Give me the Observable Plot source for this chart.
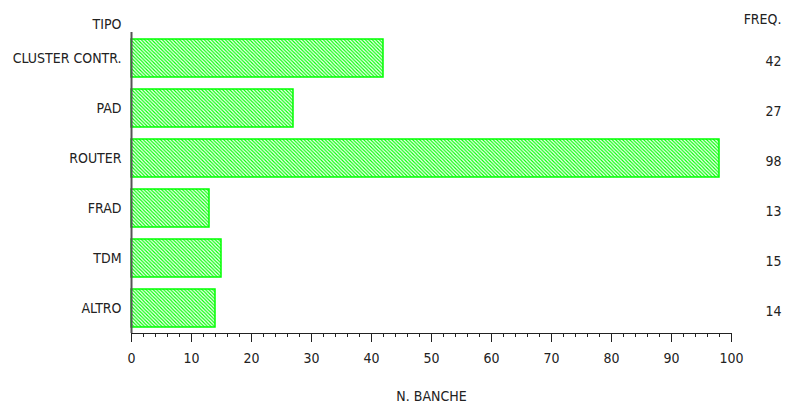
<!DOCTYPE html>
<html>
<head>
<meta charset="utf-8">
<script src="https://cdn.jsdelivr.net/npm/d3@7"></script>
<script src="https://cdn.jsdelivr.net/npm/@observablehq/plot@0.6"></script>
<style>
  html, body { margin: 0; padding: 0; background: #fff; }
  svg { font-family: "Liberation Sans Narrow", "Arial Narrow", "DejaVu Sans Condensed", sans-serif; }
</style>
</head>
<body>
<div id="chart"></div>
<script>
const tipi = ["CLUSTER CONTR.", "PAD", "ROUTER", "FRAD", "TDM", "ALTRO"];
const freq = [42, 27, 98, 13, 15, 14];
const majorTicks = [0, 10, 20, 30, 40, 50, 60, 70, 80, 90, 100];
const minorTicks = d3.range(0, 101, 2);

const data = tipi.map((t, i) => ({tipo: t, freq: freq[i]}));
const ink = "#222";
const fs = 14;

const chart = Plot.plot({
  width: 787,
  height: 405,
  marginLeft: 131,
  marginRight: 56,
  marginTop: 32,
  marginBottom: 72,
  style: {fontSize: fs + "px", color: ink, background: "#fff", overflow: "visible"},
  x: {domain: [0, 100], label: null},
  y: {domain: tipi, paddingInner: 0.24, paddingOuter: 0.12, label: null},
  marks: [
    Plot.barX(data, {x: "freq", y: "tipo", fill: "url(#hatch)", stroke: "#00ff00", strokeWidth: 1.5}),
    Plot.ruleX([0], {stroke: "#555", strokeWidth: 2}),
    Plot.frame({anchor: "bottom", stroke: ink}),
    Plot.axisX(minorTicks, {tickSize: 4, text: null, stroke: ink}),
    Plot.axisX(majorTicks, {tickSize: 9, tickPadding: 11, stroke: ink, fill: ink, fontSize: fs, label: null}),
    Plot.axisY({tickSize: 0, tickPadding: 10, fill: ink, fontSize: fs, label: null}),
    Plot.text(data, {y: "tipo", text: d => String(d.freq), frameAnchor: "right", dx: 50, dy: 3, textAnchor: "end", fill: ink, fontSize: fs}),
    Plot.text(["TIPO"], {frameAnchor: "top-left", dx: -10, dy: -13, textAnchor: "end", fill: ink, fontSize: fs}),
    Plot.text(["FREQ."], {frameAnchor: "top-right", dx: 50, dy: -18, textAnchor: "end", fill: ink, fontSize: fs}),
    Plot.text(["N. BANCHE"], {frameAnchor: "bottom", dy: 67, fill: ink, fontSize: fs})
  ]
});

const ns = "http://www.w3.org/2000/svg";
const defs = document.createElementNS(ns, "defs");
defs.innerHTML = '<pattern id="hatch" patternUnits="userSpaceOnUse" width="3.5" height="3.5">' +
  '<rect width="3.5" height="3.5" fill="#fff"/>' +
  '<path d="M-1,-1 L4.5,4.5 M-1,2.5 L1,4.5 M2.5,-1 L4.5,1" stroke="#00ff00" stroke-width="1.2"/></pattern>';
chart.insertBefore(defs, chart.firstChild);
document.getElementById("chart").appendChild(chart);
</script>
</body>
</html>
